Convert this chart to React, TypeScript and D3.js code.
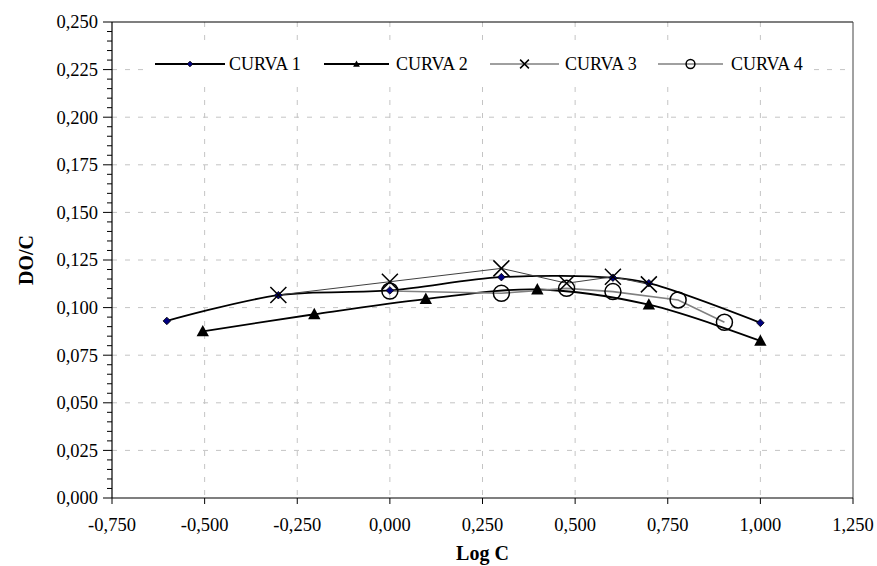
import React from "react";
import * as d3 from "d3";

const curve1X = [-0.602, -0.301, 0, 0.301, 0.602, 0.699, 1.0];
const curve1Y = [0.093, 0.1065, 0.109, 0.116, 0.1157, 0.1128, 0.092];
const curve2X = [-0.505, -0.204, 0.097, 0.398, 0.699, 1.0];
const curve2Y = [0.0875, 0.0965, 0.1045, 0.1095, 0.1015, 0.0825];
const curve3X = [-0.301, 0, 0.301, 0.477, 0.602, 0.699];
const curve3Y = [0.1066, 0.1136, 0.1206, 0.1128, 0.1162, 0.1122];
const curve4X = [0, 0.301, 0.477, 0.602, 0.778, 0.903];
const curve4Y = [0.1087, 0.1075, 0.1101, 0.1084, 0.104, 0.0923];
const seriesNames = ["CURVA 1", "CURVA 2", "CURVA 3", "CURVA 4"];
const xTicks = [-0.75, -0.5, -0.25, 0, 0.25, 0.5, 0.75, 1.0, 1.25];
const yTicks = [0, 0.025, 0.05, 0.075, 0.1, 0.125, 0.15, 0.175, 0.2, 0.225, 0.25];

const W = 877, H = 566;
const L = 112, R = 853, T = 22, B = 498;
const FONT = "Liberation Serif, Tinos, Times New Roman, DejaVu Serif, serif";

const fmt = (v: number) => d3.format(".3f")(v).replace(".", ",").replace("\u2212", "-");

type Kind = "diamond" | "triangle" | "x" | "circle";

function Marker({ kind, x, y, s = 1 }: { kind: Kind; x: number; y: number; s?: number }) {
  if (kind === "diamond") {
    const r = 3.8 * s;
    return <path d={`M${x},${y - r}L${x + r},${y}L${x},${y + r}L${x - r},${y}Z`} fill="#000080" stroke="#000" strokeWidth={0.8} />;
  }
  if (kind === "triangle") {
    const r = 6.5 * s;
    return <path d={`M${x},${y - r}L${x + r * 0.95},${y + r * 0.75}L${x - r * 0.95},${y + r * 0.75}Z`} fill="#000" />;
  }
  if (kind === "x") {
    const r = 8 * s;
    return <path d={`M${x - r},${y - r}L${x + r},${y + r}M${x - r},${y + r}L${x + r},${y - r}`} stroke="#000" strokeWidth={1.5} fill="none" />;
  }
  return <circle cx={x} cy={y} r={8 * s} fill="none" stroke="#000" strokeWidth={1.5} />;
}

export default function App() {
  const x = d3.scaleLinear().domain([-0.75, 1.25]).range([L, R]);
  const y = d3.scaleLinear().domain([0, 0.25]).range([B, T]);

  const series = [
    { xs: curve1X, ys: curve1Y, kind: "diamond" as Kind, color: "#000", w: 1.8, smooth: true },
    { xs: curve2X, ys: curve2Y, kind: "triangle" as Kind, color: "#000", w: 1.8, smooth: true },
    { xs: curve3X, ys: curve3Y, kind: "x" as Kind, color: "#404040", w: 1, smooth: false },
    { xs: curve4X, ys: curve4Y, kind: "circle" as Kind, color: "#808080", w: 1.6, smooth: false },
  ];

  const minorY = d3.range(0, 0.2501, 0.005);

  const legendItems = [
    { x1: 155, x2: 225, tx: 229 },
    { x1: 324, x2: 389, tx: 396 },
    { x1: 490, x2: 559, tx: 565 },
    { x1: 658, x2: 723, tx: 731 },
  ];
  const legY = 64;
  const textStyle = { fontFamily: FONT } as React.CSSProperties;

  return (
    <svg width={W} height={H} style={{ position: "absolute", left: 0, top: 0, background: "#fff" }}>
      <rect x={0} y={0} width={W} height={H} fill="#fff" />
      {/* gridlines */}
      {yTicks.filter((t) => t > 0 && t < 0.25).map((t) => (
        <line key={"gy" + t} x1={L} x2={R} y1={y(t)} y2={y(t)} stroke="#c4c4c4" strokeWidth={1} strokeDasharray="5,8" />
      ))}
      {xTicks.filter((t) => t > -0.75 && t < 1.25).map((t) => (
        <line key={"gx" + t} x1={x(t)} x2={x(t)} y1={T} y2={B} stroke="#c4c4c4" strokeWidth={1} strokeDasharray="5,8" />
      ))}
      {/* frame */}
      <line x1={L} x2={R} y1={T} y2={T} stroke="#000" strokeWidth={1.2} />
      <line x1={R} x2={R} y1={T} y2={B} stroke="#444" strokeWidth={1} />
      <line x1={L} x2={L} y1={T} y2={B} stroke="#000" strokeWidth={1.2} />
      <line x1={L} x2={R} y1={B} y2={B} stroke="#000" strokeWidth={1.2} />
      {/* y ticks */}
      {minorY.map((t, i) => (
        <line key={"my" + i} x1={L - (i % 5 === 0 ? 9 : 5)} x2={L} y1={y(t)} y2={y(t)} stroke="#000" strokeWidth={1} />
      ))}
      {yTicks.map((t) => (
        <text key={"ly" + t} x={98} y={y(t)} dy="0.35em" textAnchor="end" style={textStyle} fontSize={18.5} fill="#000">
          {fmt(t)}
        </text>
      ))}
      {/* x ticks */}
      {xTicks.map((t) => (
        <g key={"tx" + t}>
          <line x1={x(t)} x2={x(t)} y1={B} y2={B + 6} stroke="#000" strokeWidth={1} />
          <text x={x(t)} y={531} textAnchor="middle" style={textStyle} fontSize={18.5} fill="#000">
            {fmt(t)}
          </text>
        </g>
      ))}
      {/* axis titles */}
      <text x={(L + R) / 2} y={560} textAnchor="middle" style={textStyle} fontSize={20} fontWeight="bold">
        Log C
      </text>
      <text transform={`translate(33,${(T + B) / 2}) rotate(-90)`} textAnchor="middle" style={textStyle} fontSize={20} fontWeight="bold">
        DO/C
      </text>
      {/* legend box */}
      <rect x={148} y={47} width={666} height={33} fill="#fff" />
      {/* series lines */}
      {series.map((s, i) => {
        const pts: [number, number][] = s.xs.map((v, j) => [x(v), y(s.ys[j])]);
        const gen = d3.line().curve(s.smooth ? d3.curveCatmullRom.alpha(0.5) : d3.curveLinear);
        return <path key={"l" + i} d={gen(pts) || ""} fill="none" stroke={s.color} strokeWidth={s.w} />;
      })}
      {series.map((s, i) => (
        <g key={"m" + i}>
          {s.xs.map((v, j) => (
            <Marker key={j} kind={s.kind} x={x(v)} y={y(s.ys[j])} />
          ))}
        </g>
      ))}
      {/* legend */}
      {series.map((s, i) => {
        const it = legendItems[i];
        return (
          <g key={"lg" + i}>
            <line x1={it.x1} x2={it.x2} y1={legY} y2={legY} stroke={s.color} strokeWidth={s.w} />
            <Marker kind={s.kind} x={(it.x1 + it.x2) / 2} y={legY} s={s.kind === "diamond" ? 0.75 : 0.55} />
            <text x={it.tx} y={legY} dy="0.35em" style={textStyle} fontSize={18} fill="#000">
              {seriesNames[i]}
            </text>
          </g>
        );
      })}
    </svg>
  );
}
